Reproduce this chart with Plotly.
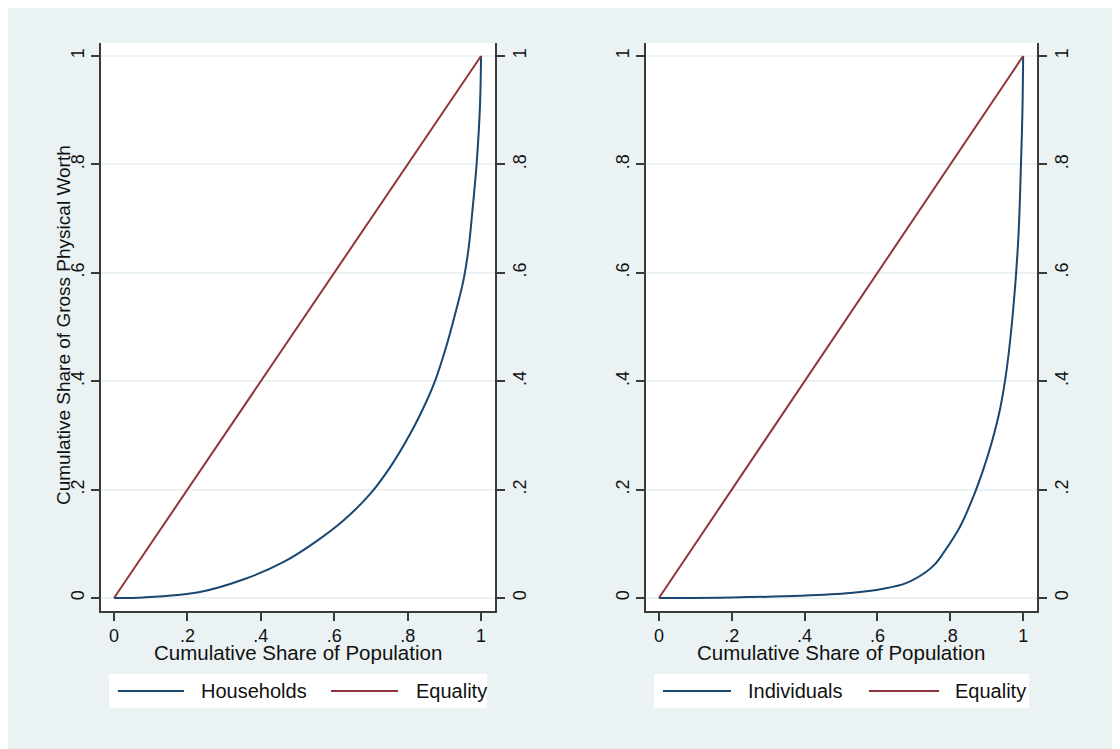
import plotly.graph_objects as go

# ---------------- data ----------------
hh_x = [0, 0.08, 0.234, 0.352, 0.461, 0.552, 0.625, 0.698, 0.752, 0.807, 0.852,
        0.875, 0.907, 0.934, 0.952, 0.966, 0.975, 0.988, 0.997, 1.0]
hh_y = [0, 0.001, 0.011, 0.034, 0.066, 0.105, 0.143, 0.192, 0.241, 0.303, 0.364,
        0.401, 0.468, 0.536, 0.586, 0.645, 0.704, 0.802, 0.907, 1.0]

ind_x = [0, 0.2, 0.39, 0.525, 0.616, 0.68, 0.735, 0.76, 0.78, 0.827, 0.865, 0.89,
         0.915, 0.937, 0.955, 0.973, 0.987, 0.994, 0.998, 1.0]
ind_y = [0, 0.001, 0.004, 0.009, 0.017, 0.028, 0.049, 0.064, 0.082, 0.132, 0.19, 0.236,
         0.29, 0.35, 0.423, 0.535, 0.667, 0.8, 0.898, 1.0]

eq_x = [0, 1]
eq_y = [0, 1]

tick_vals = [0, 0.2, 0.4, 0.6, 0.8, 1]
tick_text = ["0", ".2", ".4", ".6", ".8", "1"]

series1_name = "Households"
series2_name = "Individuals"
equality_name = "Equality"
x_title = "Cumulative Share of Population"
y_title = "Cumulative Share of Gross Physical Worth"

# ---------------- style ----------------
OFF = 8                      # page body margin
W, H = 1120 - OFF, 749 - OFF
NAVY = "#1A476F"
MAROON = "#90353B"
BG = "#EAF2F3"
AXC = "#3a3a3a"
TXT = "#111111"
FONT = "Liberation Sans, Arial, sans-serif"


def px(x):
    return (x - OFF) / W


def py(y):
    return 1 - (y - OFF) / H


fig = go.Figure()

fig.add_trace(go.Scatter(x=hh_x, y=hh_y, mode="lines", xaxis="x", yaxis="y",
                         line=dict(color=NAVY, width=2, shape="spline", smoothing=1.0),
                         name=series1_name, showlegend=False, hoverinfo="skip"))
fig.add_trace(go.Scatter(x=eq_x, y=eq_y, mode="lines", xaxis="x", yaxis="y2",
                         line=dict(color=MAROON, width=2),
                         name=equality_name, showlegend=False, hoverinfo="skip"))
fig.add_trace(go.Scatter(x=ind_x, y=ind_y, mode="lines", xaxis="x2", yaxis="y3",
                         line=dict(color=NAVY, width=2, shape="spline", smoothing=1.0),
                         name=series2_name, showlegend=False, hoverinfo="skip"))
fig.add_trace(go.Scatter(x=eq_x, y=eq_y, mode="lines", xaxis="x2", yaxis="y4",
                         line=dict(color=MAROON, width=2),
                         name=equality_name, showlegend=False, hoverinfo="skip"))

XR = [-0.0355, 1.038]
YR = [-0.024, 1.024]
tickfont = dict(family=FONT, size=18, color=TXT)

common_x = dict(range=XR, showline=True, linecolor=AXC, linewidth=1.5,
                ticks="outside", ticklen=8, tickwidth=1.5, tickcolor=AXC,
                tickvals=tick_vals, ticktext=tick_text, tickfont=tickfont,
                showgrid=False, zeroline=False, fixedrange=True)
common_y = dict(range=YR, showline=True, linecolor=AXC, linewidth=1.5,
                ticks="outside", ticklen=8, tickwidth=1.5, tickcolor=AXC,
                tickvals=tick_vals, ticktext=tick_text, tickfont=tickfont,
                tickangle=-90, zeroline=False, fixedrange=True)

ydom = [py(611), py(43)]

fig.update_layout(
    width=W, height=H,
    margin=dict(l=0, r=0, t=0, b=0),
    paper_bgcolor=BG, plot_bgcolor="white",
    showlegend=False,
    font=dict(family=FONT, color=TXT),
    xaxis=dict(domain=[px(101), px(495)], anchor="y", **common_x),
    yaxis=dict(domain=ydom, anchor="x", side="left", showgrid=True,
               gridcolor=BG, gridwidth=1.5, **common_y),
    yaxis2=dict(overlaying="y", anchor="x", side="right", showgrid=False, **common_y),
    xaxis2=dict(domain=[px(646), px(1037)], anchor="y3", **common_x),
    yaxis3=dict(domain=ydom, anchor="x2", side="left", showgrid=True,
                gridcolor=BG, gridwidth=1.5, **common_y),
    yaxis4=dict(overlaying="y3", anchor="x2", side="right", showgrid=False, **common_y),
)

shapes = []
annotations = []

# axis titles
for cx in [(101 + 495) / 2, (646 + 1037) / 2]:
    annotations.append(dict(text=x_title, xref="paper", yref="paper", x=px(cx), y=py(652),
                            showarrow=False, xanchor="center", yanchor="middle",
                            font=dict(family=FONT, size=20.5, color=TXT)))
annotations.append(dict(text=y_title, xref="paper", yref="paper", x=px(64), y=py(325),
                        showarrow=False, xanchor="center", yanchor="middle", textangle=-90,
                        font=dict(family=FONT, size=19, color=TXT)))

# legends (drawn manually to match Stata layout)
legends = [
    dict(box=(109, 487), l1=(118, 184), t1=199, l2=(331, 398), t2=414, name=series1_name),
    dict(box=(654, 1029), l1=(663, 731), t1=746, l2=(869, 939), t2=953, name=series2_name),
]
for lg in legends:
    shapes.append(dict(type="rect", xref="paper", yref="paper",
                       x0=px(lg["box"][0]), x1=px(lg["box"][1]), y0=py(708), y1=py(674),
                       fillcolor="white", line=dict(width=0)))
    shapes.append(dict(type="line", xref="paper", yref="paper",
                       x0=px(lg["l1"][0]), x1=px(lg["l1"][1]), y0=py(691), y1=py(691),
                       line=dict(color=NAVY, width=2)))
    shapes.append(dict(type="line", xref="paper", yref="paper",
                       x0=px(lg["l2"][0]), x1=px(lg["l2"][1]), y0=py(691), y1=py(691),
                       line=dict(color=MAROON, width=2)))
    annotations.append(dict(text=lg["name"], xref="paper", yref="paper", x=px(lg["t1"]),
                            y=py(691), showarrow=False, xanchor="left", yanchor="middle",
                            font=dict(family=FONT, size=20, color=TXT)))
    annotations.append(dict(text=equality_name, xref="paper", yref="paper", x=px(lg["t2"]),
                            y=py(691), showarrow=False, xanchor="left", yanchor="middle",
                            font=dict(family=FONT, size=20, color=TXT)))

fig.update_layout(shapes=shapes, annotations=annotations)
fig.write_html("out.html")
